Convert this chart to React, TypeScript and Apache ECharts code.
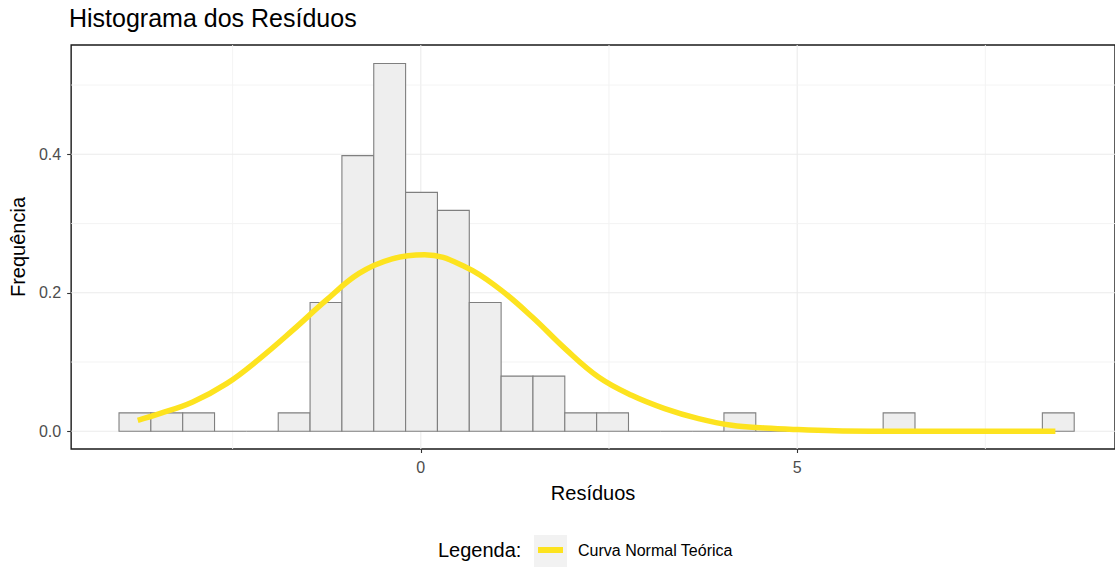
import React, { useEffect, useRef } from "react";
import * as echarts from "echarts";

// Histogram bins (lower/upper edges) and densities
const binEdges = [
  -4.009, -3.586, -3.163, -2.74, -2.317, -1.894, -1.471, -1.048, -0.625, -0.202,
  0.221, 0.644, 1.067, 1.49, 1.913, 2.336, 2.759, 3.182, 3.605, 4.027,
  4.45, 4.873, 5.296, 5.719, 6.142, 6.565, 6.988, 7.411, 7.834, 8.257, 8.68,
];
const densities = [
  0.0266, 0.0266, 0.0266, 0, 0, 0.0266, 0.186, 0.398, 0.531, 0.345,
  0.319, 0.186, 0.0797, 0.0797, 0.0266, 0.0266, 0, 0, 0, 0.0266,
  0, 0, 0, 0, 0.0266, 0, 0, 0, 0, 0.0266,
];

// Theoretical normal curve
const curveX = [
  -3.76, -3.47, -3.03, -2.58, -2.14, -1.7, -1.26, -0.82, -0.38, 0.05, 0.6,
  1.04, 1.48, 1.92, 2.36, 2.8, 3.24, 3.69, 4.13, 4.57, 5.01, 5.5, 6.0, 6.5, 7.0,
  7.5, 8.0, 8.43,
];
const curveY = [
  0.0159, 0.0255, 0.0424, 0.0688, 0.105, 0.146, 0.189, 0.228, 0.249, 0.255,
  0.237, 0.206, 0.165, 0.119, 0.0784, 0.052, 0.0328, 0.0183, 0.0087,
  0.0048, 0.0025, 0.0008, 0.0002, 0.0001, 0, 0, 0, 0,
];

// Tick / grid values
const xTicks = [0, 5];
const xMinor = [-2.5, 2.5, 7.5];
const yTicks = [0, 0.2, 0.4];
const yMinor = [0.1, 0.3, 0.5];

const FONT = "Liberation Sans, Arial, sans-serif";
const LINE_COLOR = "#FDE31F";

export default function App() {
  const ref = useRef<HTMLDivElement>(null);

  useEffect(() => {
    if (!ref.current) return;
    const chart = echarts.init(ref.current, undefined, { renderer: "svg" });

    const histData = densities.map((d, i) => [binEdges[i], binEdges[i + 1], d]);
    const curveData = curveX.map((x, i) => [x, curveY[i]]);

    // [value, orientation(0 = vertical/x, 1 = horizontal/y), major(1)/minor(0)]
    const gridData = [
      ...xTicks.map((v) => [v, 0, 1]),
      ...xMinor.map((v) => [v, 0, 0]),
      ...yTicks.map((v) => [v, 1, 1]),
      ...yMinor.map((v) => [v, 1, 0]),
    ];

    chart.setOption({
      animation: false,
      textStyle: { fontFamily: FONT },
      title: {
        text: "Histograma dos Resíduos",
        left: 69,
        top: 5,
        padding: 0,
        textStyle: { fontSize: 25, fontWeight: "normal", color: "#000", fontFamily: FONT },
      },
      grid: { left: 71, top: 45, right: -3, bottom: 118, show: true, borderColor: "#1A1A1A", borderWidth: 1.4, backgroundColor: "transparent" },
      xAxis: {
        type: "value",
        min: -4.645,
        max: 9.222,
        name: "Resíduos",
        nameLocation: "middle",
        nameGap: 34,
        nameTextStyle: { fontSize: 20, color: "#000", fontFamily: FONT },
        axisLine: { show: false, onZero: false },
        axisTick: { show: true, length: 4, lineStyle: { color: "#333", width: 1.1 }, customValues: xTicks },
        axisLabel: { show: true, fontSize: 16, color: "#4D4D4D", margin: 10, customValues: xTicks, formatter: (v: number) => String(v) },
        splitLine: { show: false },
      },
      yAxis: {
        type: "value",
        min: -0.02556,
        max: 0.5578,
        name: "Frequência",
        nameLocation: "middle",
        nameGap: 40,
        nameRotate: 90,
        nameTextStyle: { fontSize: 20, color: "#000", fontFamily: FONT },
        axisLine: { show: false, onZero: false },
        axisTick: { show: true, length: 4, lineStyle: { color: "#333", width: 1.1 }, customValues: yTicks },
        axisLabel: { show: true, fontSize: 16, color: "#4D4D4D", margin: 10, customValues: yTicks, formatter: (v: number) => v.toFixed(1) },
        splitLine: { show: false },
      },
      legend: {
        show: true,
        left: 538,
        top: 542,
        padding: 0,
        icon: "rect",
        itemWidth: 25,
        itemHeight: 6,
        selectedMode: false,
        data: ["Curva Normal Teórica"],
        textStyle: { fontSize: 16, color: "#000", fontFamily: FONT, padding: [0, 0, 0, 10] },
      },
      graphic: [
        {
          type: "rect",
          z: -1,
          shape: { x: 534, y: 535, width: 33, height: 40 },
          style: { fill: "#F2F2F2" },
          silent: true,
        },
        {
          type: "text",
          x: 438,
          y: 550,
          style: { text: "Legenda:", fontSize: 20, fill: "#000", font: `20px ${FONT}`, textVerticalAlign: "middle" },
          silent: true,
        },
      ],
      series: [
        {
          type: "custom",
          name: "grid",
          z: 0,
          silent: true,
          data: gridData,
          encode: { x: -1, y: -1 },
          renderItem: (params: any, api: any) => {
            const cs = params.coordSys;
            const v = api.value(0);
            const horiz = api.value(1) === 1;
            const major = api.value(2) === 1;
            let shape;
            if (horiz) {
              const y = api.coord([0, v])[1];
              shape = { x1: cs.x, y1: y, x2: cs.x + cs.width, y2: y };
            } else {
              const x = api.coord([v, 0])[0];
              shape = { x1: x, y1: cs.y, x2: x, y2: cs.y + cs.height };
            }
            return {
              type: "line",
              shape,
              style: { stroke: major ? "#EBEBEB" : "#F2F2F2", lineWidth: major ? 1.1 : 0.9 },
            };
          },
        },
        {
          type: "custom",
          name: "Histograma",
          z: 2,
          data: histData,
          encode: { x: [0, 1], y: 2 },
          renderItem: (params: any, api: any) => {
            const p0 = api.coord([api.value(0), api.value(2)]);
            const p1 = api.coord([api.value(1), 0]);
            return {
              type: "rect",
              shape: { x: p0[0], y: p0[1], width: p1[0] - p0[0], height: p1[1] - p0[1] },
              style: { fill: "#EEEEEE", stroke: "#7F7F7F", lineWidth: 1.1 },
            };
          },
        },
        {
          type: "line",
          name: "Curva Normal Teórica",
          z: 3,
          data: curveData,
          smooth: 0.4,
          showSymbol: false,
          symbol: "none",
          itemStyle: { color: LINE_COLOR },
          lineStyle: { color: LINE_COLOR, width: 5.5, cap: "butt" },
        },
      ],
    });

    return () => chart.dispose();
  }, []);

  return <div ref={ref} style={{ position: "absolute", left: 0, top: 0, width: 1115, height: 567 }} />;
}
